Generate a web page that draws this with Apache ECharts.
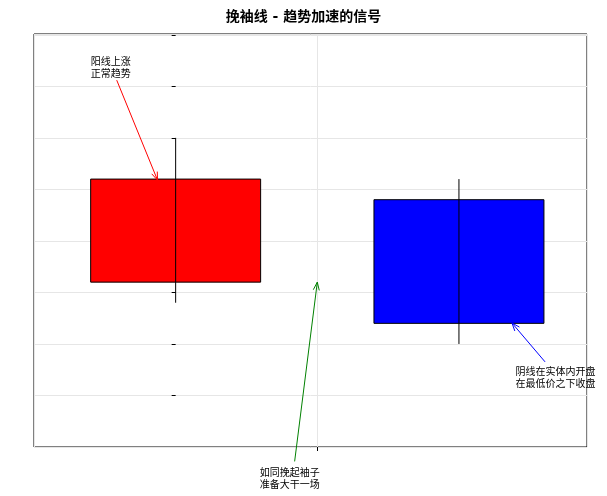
<!DOCTYPE html>
<html><head><meta charset="utf-8">
<script src="https://cdn.jsdelivr.net/npm/echarts@6/dist/echarts.min.js"></script>
<style>html,body{margin:0;padding:0;background:#fff}#c{width:607px;height:496px}</style>
</head><body><div id="c"></div>
<script>
const categories = ['第1日', '第2日'];
const opens = [95, 99];
const closes = [100, 93];
const lows = [94, 92];
const highs = [102, 100];
const colors = ['#ff0000', '#0000ff'];
const yTicks = [87.5, 90, 92.5, 95, 97.5, 100, 102.5, 105];
// annotations: [text, textX, textY, tailX, tailY, tipX, tipY, color]
const annTexts = ['阳线上涨\n正常趋势', '如同挽起袖子\n准备大干一场', '阴线在实体内开盘\n在最低价之下收盘'];
const annTextPos = [[-0.30, 105.96], [0.297, 86.0], [1.2, 90.93]];
const annTail = [[-0.208, 104.8], [0.42, 86.3], [1.304, 91.13]];
const annTip = [[-0.064, 99.95], [0.5, 95], [1.187, 93.02]];
const annColors = ['#ff0000', '#008000', '#0000ff'];

const font = 'DejaVu Sans, Noto Sans CJK SC, sans-serif';
const chart = echarts.init(document.getElementById('c'));
const candleData = categories.map((c, i) => [i, opens[i], closes[i], lows[i], highs[i]]);
const annData = annTexts.map((t, i) => [annTextPos[i][0], annTextPos[i][1], annTail[i][0], annTail[i][1], annTip[i][0], annTip[i][1], i]);
chart.setOption({
  animation: false,
  title: { text: '挽袖线 - 趋势加速的信号', left: 'center', top: 5, textStyle: { fontFamily: font, fontSize: 14, fontWeight: 'bold', color: '#000' } },
  grid: { left: 34, right: 20, top: 34, bottom: 49, show: true, borderColor: '#000', borderWidth: 1 },
  xAxis: {
    type: 'value', min: -0.5, max: 1.452, interval: 1,
    axisLine: { show: false }, axisTick: { show: true, length: 4, lineStyle: { color: '#000' } },
    axisLabel: { fontFamily: font, fontSize: 9, color: '#000', showMinLabel: false, showMaxLabel: false,
      formatter: v => { const i = Math.round(v); return Math.abs(v - i) < 1e-6 && categories[i] ? categories[i] : ''; } },
    splitLine: { show: true, lineStyle: { color: '#e6e6e6' } }
  },
  yAxis: {
    type: 'value', min: 87.0, max: 107.04, interval: 2.5,
    axisLine: { show: false }, axisTick: { show: true, length: 4, lineStyle: { color: '#000' } },
    axisLabel: { fontFamily: font, fontSize: 9, color: '#000', showMinLabel: false, showMaxLabel: false,
      formatter: v => yTicks.some(t => Math.abs(t - v) < 1e-6) ? v.toFixed(1) : '' },
    splitLine: { show: true, lineStyle: { color: '#e6e6e6' } }
  },
  series: [{
    type: 'custom', data: candleData, encode: { x: 0, y: [1, 2, 3, 4] },
    renderItem: (params, api) => {
      const x = api.value(0), o = api.value(1), c = api.value(2), l = api.value(3), h = api.value(4);
      const p1 = api.coord([x - 0.3, Math.max(o, c)]);
      const p2 = api.coord([x + 0.3, Math.min(o, c)]);
      const hi = api.coord([x, h]), lo = api.coord([x, l]);
      return { type: 'group', children: [
        { type: 'rect', shape: { x: p1[0], y: p1[1], width: p2[0] - p1[0], height: p2[1] - p1[1] },
          style: { fill: colors[params.dataIndex], stroke: '#000', lineWidth: 1 } },
        { type: 'line', shape: { x1: hi[0], y1: hi[1], x2: lo[0], y2: lo[1] }, style: { stroke: '#000', lineWidth: 1 } }
      ] };
    }
  }, {
    type: 'custom', data: annData, clip: false, encode: { x: 0, y: 1 },
    renderItem: (params, api) => {
      const i = api.value(6);
      const tp = api.coord([api.value(0), api.value(1)]);
      const a = api.coord([api.value(2), api.value(3)]);
      const b = api.coord([api.value(4), api.value(5)]);
      const ang = Math.atan2(b[1] - a[1], b[0] - a[0]);
      const L = 8, W = 3;
      const bx = b[0] - L * Math.cos(ang), by = b[1] - L * Math.sin(ang);
      const col = annColors[i];
      return { type: 'group', children: [
        { type: 'line', shape: { x1: a[0], y1: a[1], x2: b[0], y2: b[1] }, style: { stroke: col, lineWidth: 1 } },
        { type: 'polyline', shape: { points: [[bx - W * Math.sin(ang), by + W * Math.cos(ang)], b, [bx + W * Math.sin(ang), by - W * Math.cos(ang)]] },
          style: { stroke: col, fill: 'none', lineWidth: 1 } },
        { type: 'text', x: tp[0], y: tp[1], style: { text: annTexts[i], fontFamily: font, fontSize: 10, fill: '#000', lineHeight: 12, align: 'left', verticalAlign: 'top' } }
      ] };
    }
  }]
});
</script></body></html>
